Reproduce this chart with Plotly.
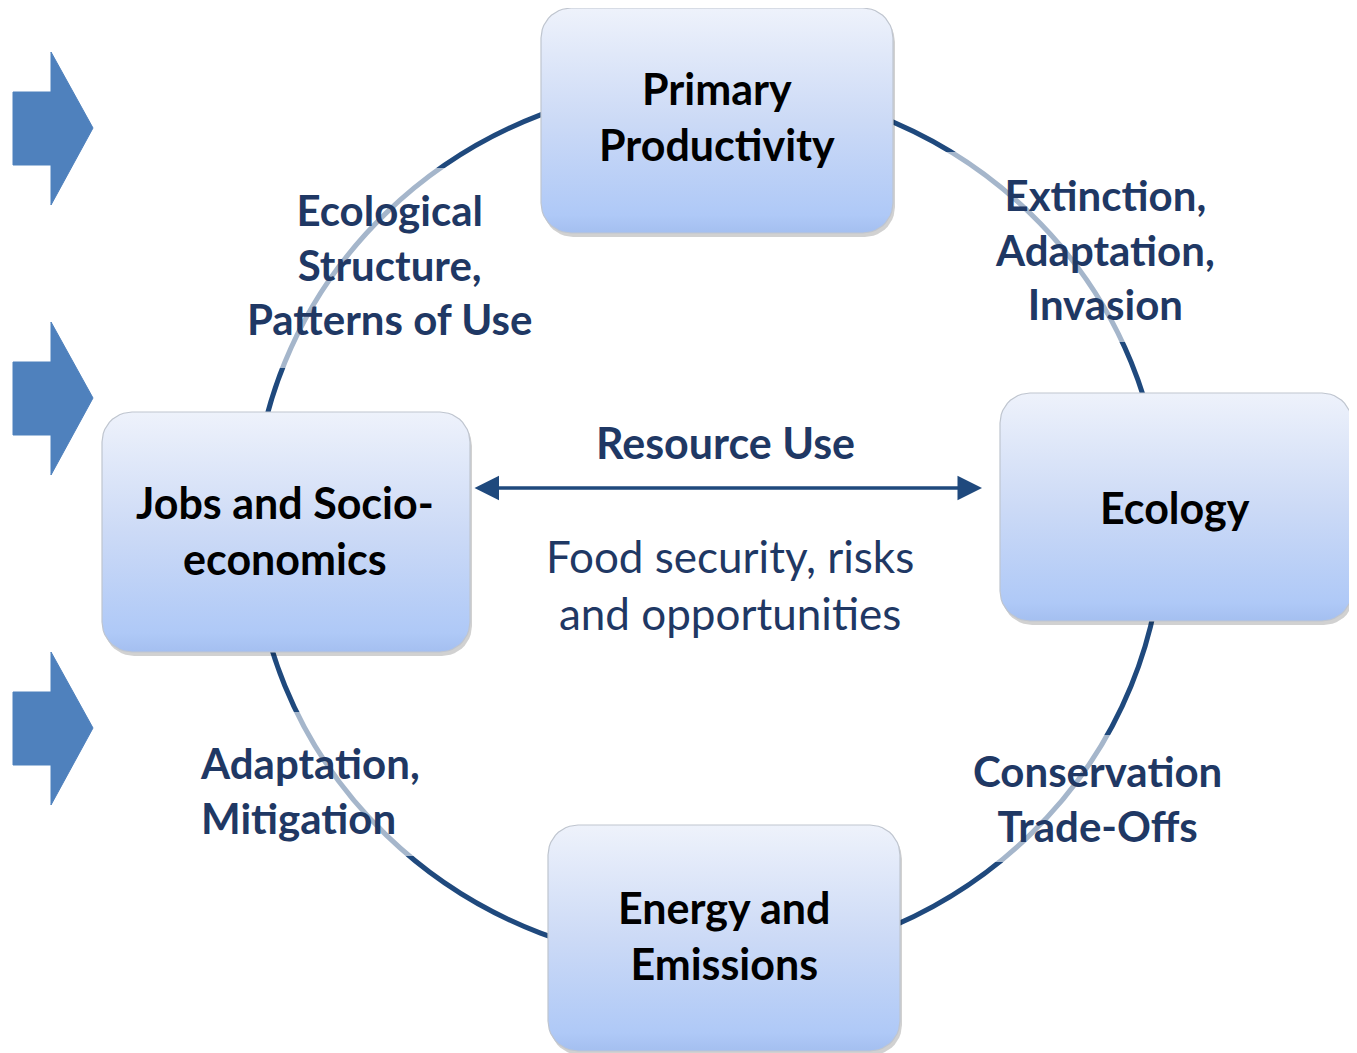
import numpy as np
import plotly.graph_objects as go

# ---------------- data (text content) ----------------
node_labels = ["Primary<br>Productivity", "Ecology", "Energy and<br>Emissions", "Jobs and Socio-<br>economics"]
link_labels = ["Extinction,<br>Adaptation,<br>Invasion", "Conservation<br>Trade-Offs",
               "Adaptation,<br>Mitigation", "Ecological<br>Structure,<br>Patterns of Use"]
center_title = "Resource Use"
center_text = "Food security, risks<br>and opportunities"

# ---------------- layout constants (pixels) ----------------
W, H = 1357, 1053
OFF = 8  # page body margin compensation
NAVY = "#1F3864"
ARC = "#1F497D"
node_boxes = [(541, 8, 893, 233), (1000, 393, 1352, 621), (548, 825, 900, 1051), (102, 412, 470, 652)]
node_text_pos = [(717, 116), (1175, 507), (724, 935), (285, 530)]
link_pos = [(1105, 249, "center"), (1097, 798, "center"), (198, 790, "left"), (389, 264, "center")]
link_bg = [(945, 152, 1230, 342), (965, 735, 1230, 862), (185, 712, 430, 856), (240, 168, 540, 368)]
ellipse_c = (708, 524)
ellipse_r = (455, 440)
side_arrow_tips = [128, 398, 728]


def rounded_rect(x0, y0, x1, y1, r, n=12):
    xs, ys = [], []
    corners = [(x1 - r, y0 + r, -90, 0), (x1 - r, y1 - r, 0, 90),
               (x0 + r, y1 - r, 90, 180), (x0 + r, y0 + r, 180, 270)]
    for cx, cy, a0, a1 in corners:
        t = np.radians(np.linspace(a0, a1, n))
        xs += list(cx + r * np.cos(t))
        ys += list(cy + r * np.sin(t))
    xs.append(xs[0]); ys.append(ys[0])
    return xs, ys


fig = go.Figure()
shapes = []

# ring
cx, cy = ellipse_c
rx, ry = ellipse_r
shapes.append(dict(type="circle", xref="x", yref="y", x0=cx - rx, x1=cx + rx, y0=cy - ry, y1=cy + ry,
                   line=dict(color=ARC, width=5), layer="below"))
# translucent backgrounds behind link labels
for (x0, y0, x1, y1) in link_bg:
    shapes.append(dict(type="rect", xref="x", yref="y", x0=x0, x1=x1, y0=y0, y1=y1,
                       fillcolor="rgba(255,255,255,0.6)", line=dict(width=0), layer="below"))

# side block arrows
for tip in side_arrow_tips:
    px = [13, 51, 51, 93, 51, 51, 13, 13]
    py = [tip - 36, tip - 36, tip - 76, tip, tip + 77, tip + 37, tip + 37, tip - 36]
    fig.add_trace(go.Scatter(x=px, y=py, fill="toself", fillcolor="#4F81BD", mode="lines",
                             line=dict(color="#4F81BD", width=1), hoverinfo="skip", showlegend=False))

# node boxes
for (x0, y0, x1, y1) in node_boxes:
    sx, sy = rounded_rect(x0 + 2, y0 + 4, x1 + 2, y1 + 4, 30)
    fig.add_trace(go.Scatter(x=sx, y=sy, fill="toself", fillcolor="rgba(0,0,0,0.18)", mode="lines",
                             line=dict(color="rgba(0,0,0,0)", width=0), hoverinfo="skip", showlegend=False))
    bx, by = rounded_rect(x0, y0, x1, y1, 30)
    fig.add_trace(go.Scatter(x=bx, y=by, fill="toself", mode="lines",
                             fillgradient=dict(type="vertical", start=y0, stop=y1,
                                               colorscale=[[0, "#EEF2FB"], [0.5, "#CCDAF6"], [0.92, "#AFC9F7"], [1, "#A4BFF0"]]),
                             line=dict(color="#BFC5CF", width=1.2), hoverinfo="skip", showlegend=False))

annotations = []
for lab, (x, y) in zip(node_labels, node_text_pos):
    annotations.append(dict(x=x, y=y, xref="x", yref="y", text="<b>" + lab + "</b>", showarrow=False,
                            font=dict(family="Lato", size=43, color="black"), align="center",
                            xanchor="center", yanchor="middle"))
for lab, (x, y, al) in zip(link_labels, link_pos):
    annotations.append(dict(x=x, y=y, xref="x", yref="y", text="<b>" + lab + "</b>", showarrow=False,
                            font=dict(family="Lato", size=42, color=NAVY), align=al,
                            xanchor="left" if al == "left" else "center", yanchor="middle"))
annotations.append(dict(x=725, y=442, xref="x", yref="y", text="<b>" + center_title + "</b>", showarrow=False,
                        font=dict(family="Lato", size=43, color=NAVY), xanchor="center", yanchor="middle"))
annotations.append(dict(x=730, y=584, xref="x", yref="y", text=center_text, showarrow=False,
                        font=dict(family="Lato", size=44, color=NAVY), align="center",
                        xanchor="center", yanchor="middle"))
# double-headed arrow
annotations.append(dict(x=982, y=488, ax=473, ay=488, xref="x", yref="y", axref="x", ayref="y",
                        text="", showarrow=True, arrowside="end+start", arrowhead=2, startarrowhead=2,
                        arrowsize=1.4, startarrowsize=1.4, arrowwidth=3.5, arrowcolor=ARC,
                        standoff=0, startstandoff=0))

fig.update_layout(width=W - OFF, height=H - OFF, margin=dict(l=0, r=0, t=0, b=0),
                  paper_bgcolor="white", plot_bgcolor="white", shapes=shapes, annotations=annotations,
                  xaxis=dict(range=[OFF, W], visible=False, fixedrange=True),
                  yaxis=dict(range=[H, OFF], visible=False, fixedrange=True),
                  showlegend=False)
fig.write_html("out.html")
